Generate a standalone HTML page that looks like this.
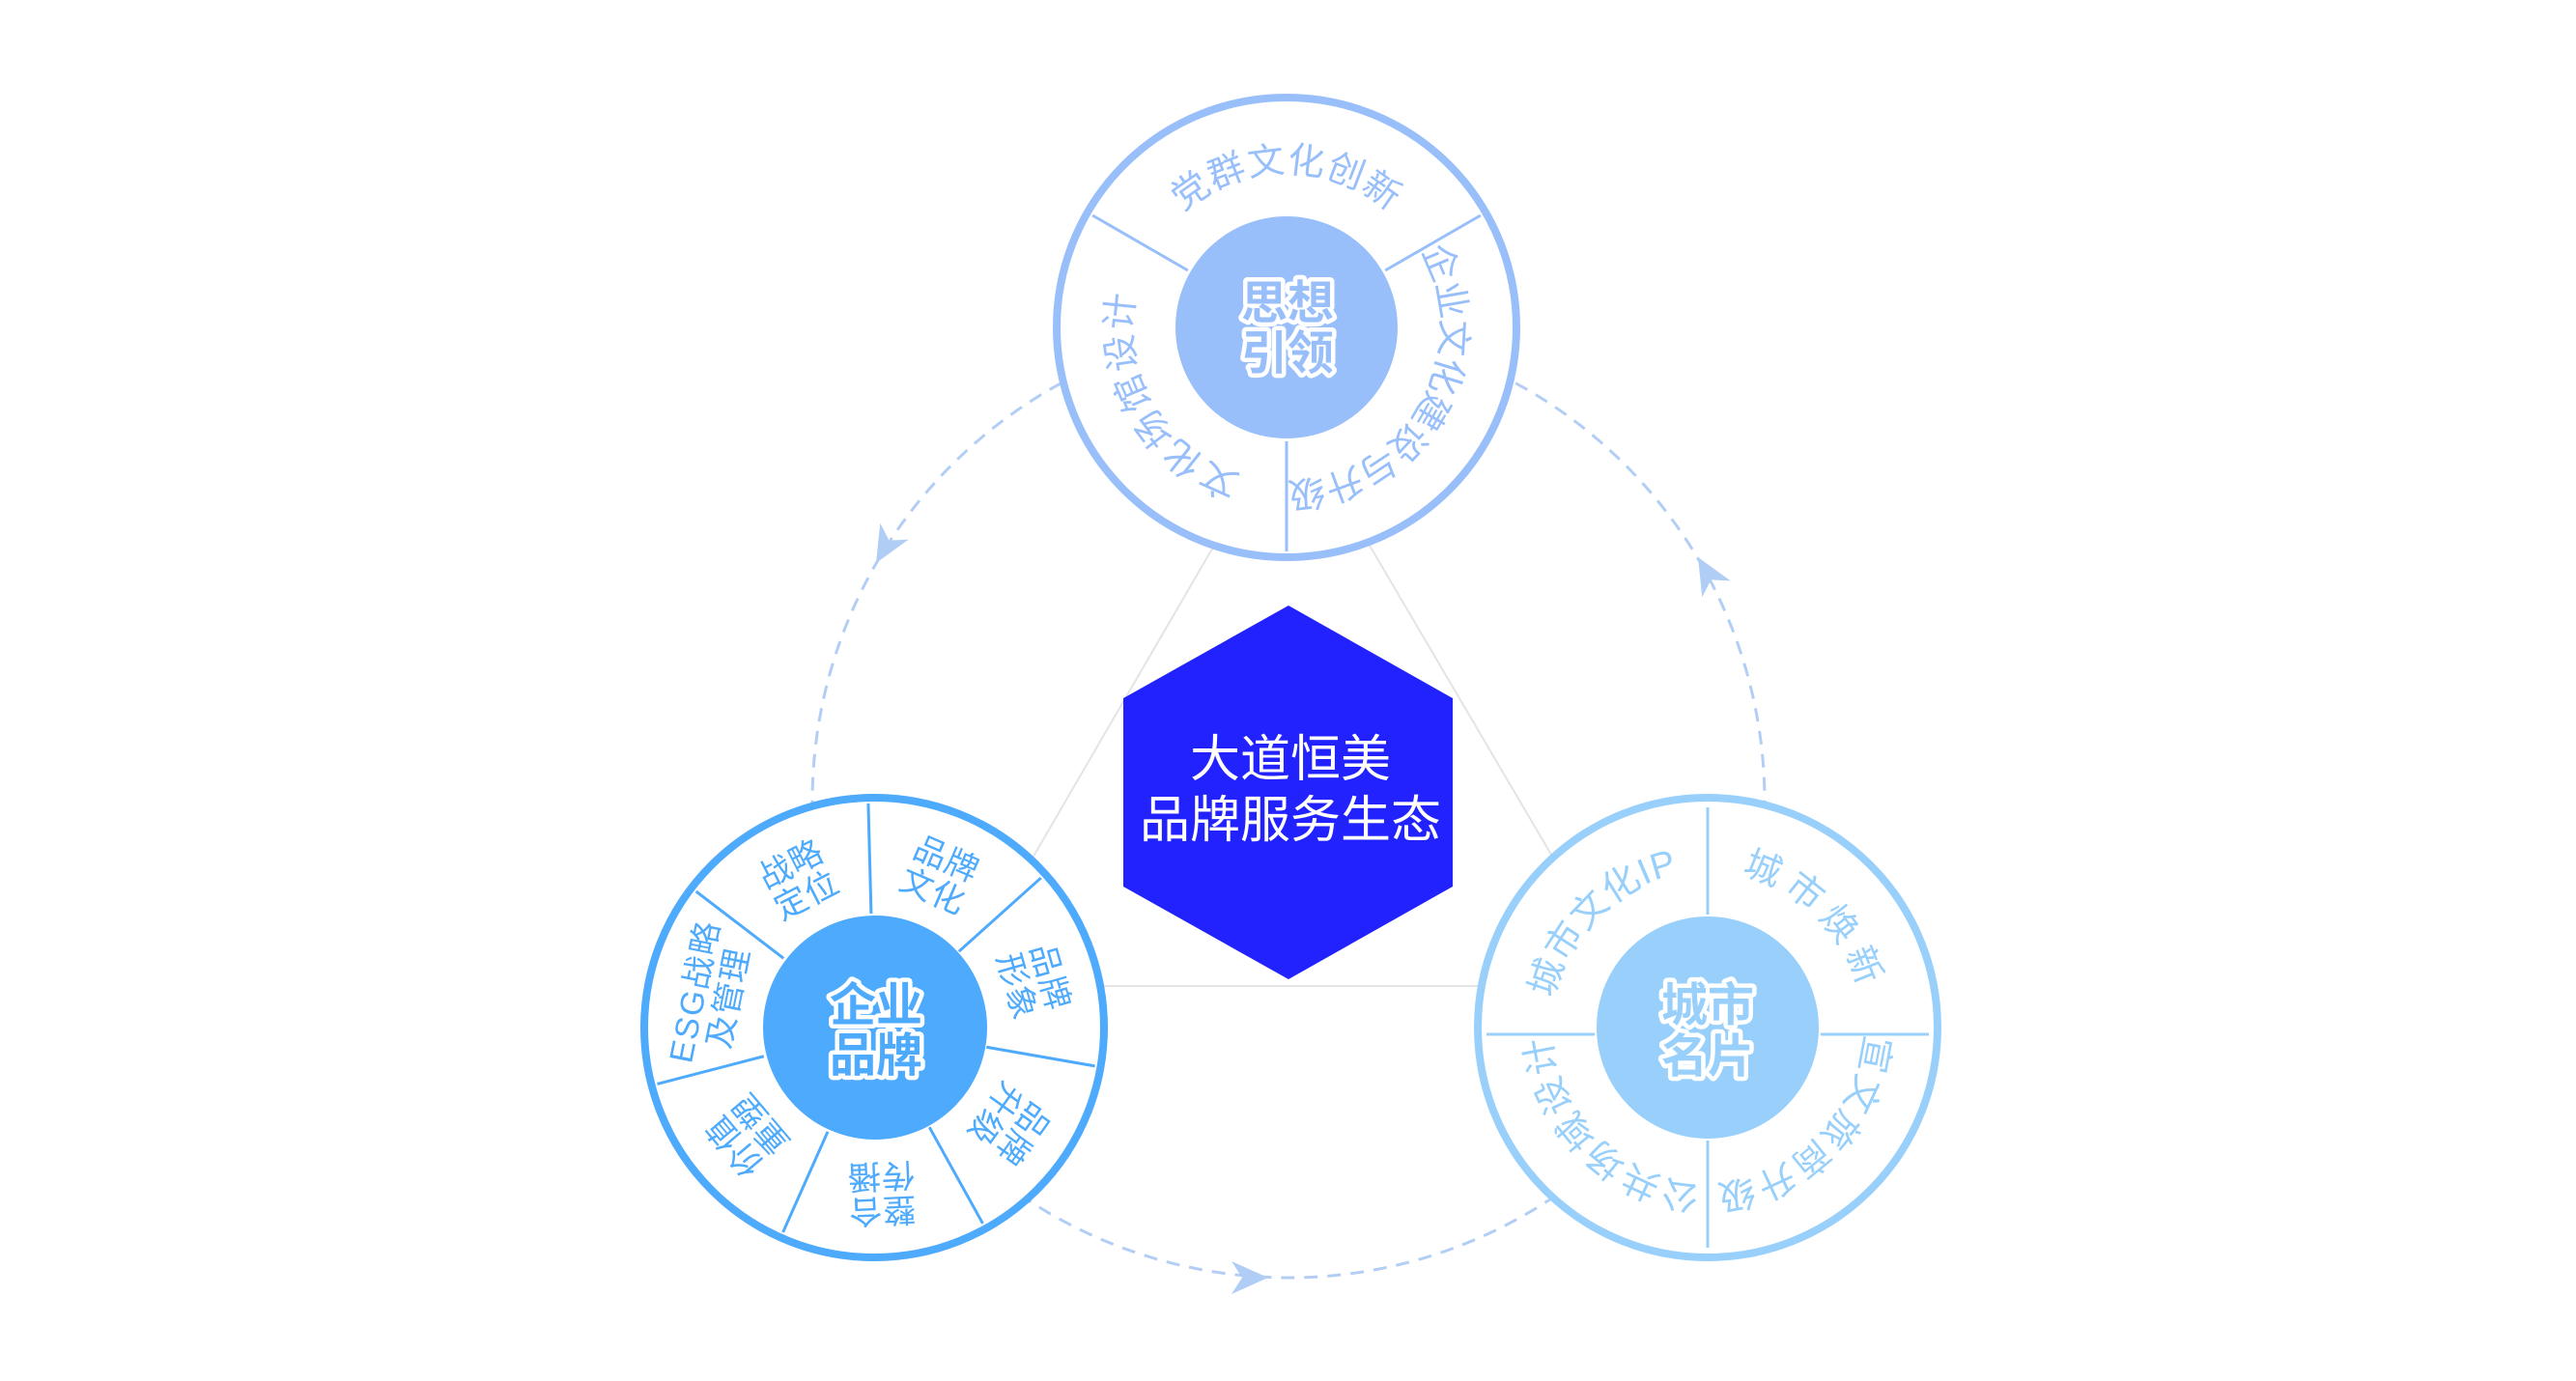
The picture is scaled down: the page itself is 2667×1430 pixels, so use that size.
<!DOCTYPE html>
<html><head><meta charset="utf-8"><style>
html,body{margin:0;padding:0;background:#fff;}
svg{display:block;}
text{font-family:"Liberation Sans","Noto Sans CJK SC",sans-serif;}
</style></head><body>
<svg width="2667" height="1430" viewBox="0 0 2667 1430" xmlns="http://www.w3.org/2000/svg">
<defs>
  <path id="t1" d="M 1332 499 A 160 160 0 1 1 1332 179 A 160 160 0 1 1 1332 499"/>
  <path id="t2" d="M 1193.4 259 A 160 160 0 1 1 1470.6 419 A 160 160 0 1 1 1193.4 259"/>
  <path id="t3" d="M 1470.6 259 A 160 160 0 1 1 1193.4 419 A 160 160 0 1 1 1470.6 259"/>
  <path id="r1" d="M 1881.1 1177.1 A 160 160 0 1 1 1654.9 950.9 A 160 160 0 1 1 1881.1 1177.1"/>
  <path id="r2" d="M 1654.9 1177.1 A 160 160 0 1 1 1881.1 950.9 A 160 160 0 1 1 1654.9 1177.1"/>
  <path id="r3" d="M 1654.9 950.9 A 160 160 0 1 1 1881.1 1177.1 A 160 160 0 1 1 1654.9 950.9"/>
  <path id="r4" d="M 1881.1 950.9 A 160 160 0 1 1 1654.9 1177.1 A 160 160 0 1 1 1881.1 950.9"/>
</defs>

<polygon points="1337,427 992,1021 1686,1021" fill="none" stroke="#e4e4e4" stroke-width="2"/>
<circle cx="1334" cy="830" r="493" fill="none" stroke="#b3cef5" stroke-width="3" stroke-dasharray="14 10"/>

<g fill="#b0cdf5">
  <polygon transform="translate(907,583) rotate(120)" points="0,0 -38,-17 -27,0 -38,17"/>
  <polygon transform="translate(1313,1323) rotate(0)" points="0,0 -38,-17 -27,0 -38,17"/>
  <polygon transform="translate(1758,577) rotate(-120)" points="0,0 -38,-17 -27,0 -38,17"/>
</g>

<!-- TOP circle -->
<g>
  <circle cx="1332" cy="339" r="238" fill="#fff" stroke="#99bffb" stroke-width="8"/>
  <g stroke="#99bffb" stroke-width="3">
    <line x1="1229.8" y1="280" x2="1131.1" y2="223"/>
    <line x1="1434.2" y1="280" x2="1532.9" y2="223"/>
    <line x1="1332" y1="457" x2="1332" y2="571"/>
  </g>
  <circle cx="1332" cy="339" r="115" fill="#99bffb"/>
  <g fill="#99bffb" font-size="38" text-anchor="middle">
    <text letter-spacing="1"><textPath href="#t1" startOffset="50%">党群文化创新</textPath></text>
    <text letter-spacing="-1"><textPath href="#t2" startOffset="50%">企业文化建设与升级</textPath></text>
    <text letter-spacing="2"><textPath href="#t3" startOffset="50%">文化场馆设计</textPath></text>
  </g>
  <g font-size="48" font-weight="bold" text-anchor="middle" fill="#99bffb" stroke="#fff" stroke-width="9" paint-order="stroke" stroke-linejoin="round">
    <text x="1333" y="330">思想</text>
    <text x="1333" y="382">引领</text>
  </g>
</g>

<!-- LEFT circle -->
<g>
  <circle cx="905" cy="1064" r="238" fill="#fff" stroke="#4eaafc" stroke-width="8"/>
  <g stroke="#4eaafc" stroke-width="3" transform="translate(905,1064)">
    <g transform="rotate(-91.5)"><line x1="118" y1="0" x2="232" y2="0"/></g>
    <g transform="rotate(-41.9)"><line x1="118" y1="0" x2="232" y2="0"/></g>
    <g transform="rotate(9.9)"><line x1="118" y1="0" x2="232" y2="0"/></g>
    <g transform="rotate(61)"><line x1="118" y1="0" x2="232" y2="0"/></g>
    <g transform="rotate(114)"><line x1="118" y1="0" x2="232" y2="0"/></g>
    <g transform="rotate(165.4)"><line x1="118" y1="0" x2="232" y2="0"/></g>
    <g transform="rotate(217.4)"><line x1="118" y1="0" x2="232" y2="0"/></g>
  </g>
  <circle cx="906" cy="1064" r="116" fill="#4eaafc"/>
  <g fill="#4eaafc" font-size="34" text-anchor="middle" letter-spacing="1">
    <g transform="translate(905,1064) rotate(-117) translate(174,0) rotate(90)"><text x="0" y="-4">战略</text><text x="0" y="32">定位</text></g>
    <g transform="translate(905,1064) rotate(-66.7) translate(174,0) rotate(90)"><text x="0" y="-4">品牌</text><text x="0" y="32">文化</text></g>
    <g transform="translate(905,1064) rotate(-16) translate(174,0) rotate(90)"><text x="0" y="-4">品牌</text><text x="0" y="32">形象</text></g>
    <g transform="translate(905,1064) rotate(35.5) translate(174,0) rotate(90)"><text x="0" y="-4">品牌</text><text x="0" y="32">升级</text></g>
    <g transform="translate(905,1064) rotate(87.5) translate(174,0) rotate(90)"><text x="0" y="-4">整合</text><text x="0" y="32">传播</text></g>
    <g transform="translate(905,1064) rotate(139.7) translate(174,0) rotate(90)"><text x="0" y="-4">价值</text><text x="0" y="32">重塑</text></g>
    <g transform="translate(905,1064) rotate(191.4) translate(174,0) rotate(90)"><text x="0" y="-4" letter-spacing="2">ESG战略</text><text x="0" y="32">及管理</text></g>
  </g>
  <g font-size="48" font-weight="bold" text-anchor="middle" fill="#4eaafc" stroke="#fff" stroke-width="9" paint-order="stroke" stroke-linejoin="round">
    <text x="907" y="1057">企业</text>
    <text x="907" y="1109">品牌</text>
  </g>
</g>

<!-- RIGHT circle -->
<g>
  <circle cx="1768" cy="1064" r="238" fill="#fff" stroke="#99d0fb" stroke-width="8"/>
  <g stroke="#99d0fb" stroke-width="3">
    <line x1="1768" y1="947" x2="1768" y2="836"/>
    <line x1="1768" y1="1181" x2="1768" y2="1292"/>
    <line x1="1651" y1="1071" x2="1539" y2="1071"/>
    <line x1="1885" y1="1071" x2="1997" y2="1071"/>
  </g>
  <circle cx="1768" cy="1064" r="115" fill="#99d0fb"/>
  <g fill="#99d0fb" font-size="38" text-anchor="middle">
    <text letter-spacing="1"><textPath href="#r1" startOffset="50%">城市文化IP</textPath></text>
    <text letter-spacing="8"><textPath href="#r2" startOffset="50%">城市焕新</textPath></text>
    <text letter-spacing="2"><textPath href="#r3" startOffset="50%">宣文旅商升级</textPath></text>
    <text letter-spacing="2"><textPath href="#r4" startOffset="50%">公共场域设计</textPath></text>
  </g>
  <g font-size="48" font-weight="bold" text-anchor="middle" fill="#99d0fb" stroke="#fff" stroke-width="9" paint-order="stroke" stroke-linejoin="round">
    <text x="1768" y="1057">城市</text>
    <text x="1768" y="1110">名片</text>
  </g>
</g>

<polygon points="1334,627 1504,723 1504,918 1334,1014 1163,918 1163,723" fill="#2222ff"/>
<g fill="#fff" font-size="52" text-anchor="middle">
  <text x="1336" y="804">大道恒美</text>
  <text x="1336" y="867">品牌服务生态</text>
</g>
</svg>
</body></html>
